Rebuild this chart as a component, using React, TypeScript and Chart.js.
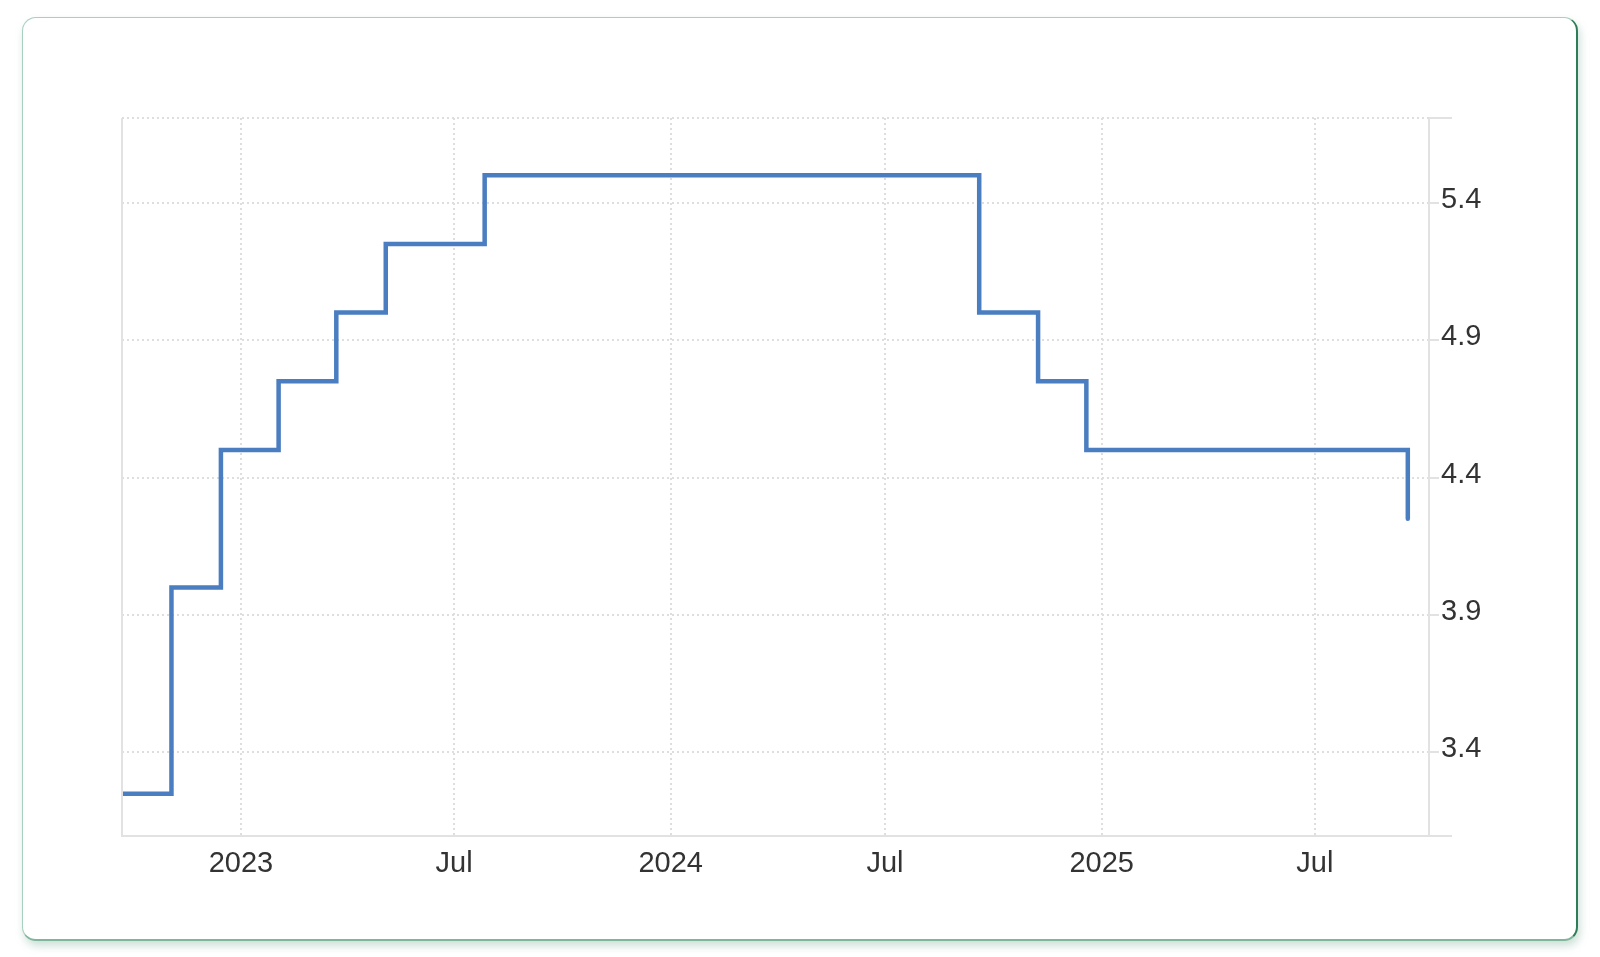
import React, { useEffect, useRef } from "react";
import { Chart, registerables } from "chart.js";

Chart.register(...registerables);

// Effective dates of rate changes and resulting rate (%)
const changeDates = [
  "2022-09-22",
  "2022-11-03",
  "2022-12-15",
  "2023-02-02",
  "2023-03-23",
  "2023-05-04",
  "2023-07-27",
  "2024-09-19",
  "2024-11-08",
  "2024-12-19",
  "2025-09-18",
];
const rateValues = [3.25, 4.0, 4.5, 4.75, 5.0, 5.25, 5.5, 5.0, 4.75, 4.5, 4.25];

const xTickDates = ["2023-01-01", "2023-07-01", "2024-01-01", "2024-07-01", "2025-01-01", "2025-07-01"];
const xTickLabels = ["2023", "Jul", "2024", "Jul", "2025", "Jul"];
const yTickValues = [3.4, 3.9, 4.4, 4.9, 5.4];
const yTickLabels = ["3.4", "3.9", "4.4", "4.9", "5.4"];

const xMinDate = "2022-09-22";
const xMaxDate = "2025-10-06";
const yMin = 3.096;
const yMax = 5.708;

const toMs = (s: string) => {
  const [y, m, d] = s.split("-").map(Number);
  return Date.UTC(y, m - 1, d);
};

const frame = {
  id: "frame",
  afterDraw(chart: any) {
    const { ctx, chartArea } = chart;
    const { left, right, top, bottom } = chartArea;
    ctx.save();
    ctx.strokeStyle = "#e2e2e2";
    ctx.lineWidth = 2;
    ctx.beginPath();
    ctx.moveTo(left, top);
    ctx.lineTo(left, bottom);
    ctx.stroke();
    ctx.beginPath();
    ctx.moveTo(right, top);
    ctx.lineTo(right + 23, top);
    ctx.moveTo(right, bottom);
    ctx.lineTo(right + 23, bottom);
    ctx.stroke();
    ctx.strokeStyle = "#dedede";
    ctx.setLineDash([2, 3]);
    ctx.beginPath();
    ctx.moveTo(left, top);
    ctx.lineTo(right, top);
    ctx.stroke();
    ctx.restore();
  },
};

export default function App() {
  const ref = useRef<HTMLCanvasElement>(null);

  useEffect(() => {
    if (!ref.current) return;
    const data = changeDates.map((d, i) => ({ x: toMs(d), y: rateValues[i] }));
    const xTicks = xTickDates.map(toMs);
    const font = { family: "'Liberation Sans', Arial, sans-serif", size: 29 };
    const chart = new Chart(ref.current, {
      type: "line",
      data: {
        datasets: [
          {
            data,
            stepped: true,
            borderColor: "#4a7ec0",
            borderWidth: 4.5,
            borderCapStyle: "round",
            borderJoinStyle: "miter",
            pointRadius: 0,
            fill: false,
          },
        ],
      },
      options: {
        animation: false,
        responsive: false,
        maintainAspectRatio: false,
        layout: { padding: { left: 82, top: 78, right: 31, bottom: 14 } },
        plugins: { legend: { display: false }, tooltip: { enabled: false } },
        scales: {
          x: {
            type: "linear",
            min: toMs(xMinDate),
            max: toMs(xMaxDate),
            afterBuildTicks: (scale: any) => {
              scale.ticks = xTicks.map((v) => ({ value: v }));
            },
            afterFit: (scale: any) => {
              scale.height = 50;
            },
            ticks: {
              autoSkip: false,
              maxRotation: 0,
              padding: 11,
              color: "#333333",
              font,
              callback: (v: any) => {
                const i = xTicks.indexOf(Number(v));
                return i >= 0 ? xTickLabels[i] : "";
              },
            },
            grid: { color: "#dedede", lineWidth: 2, drawTicks: false },
            border: { display: true, color: "#e2e2e2", width: 2, dash: [2, 3] },
          },
          y: {
            type: "linear",
            position: "right",
            min: yMin,
            max: yMax,
            afterBuildTicks: (scale: any) => {
              scale.ticks = yTickValues.map((v) => ({ value: v }));
            },
            afterFit: (scale: any) => {
              scale.width = 80;
            },
            ticks: {
              padding: 2,
              labelOffset: -3,
              color: "#333333",
              font,
              callback: (v: any) => {
                const i = yTickValues.findIndex((t) => Math.abs(t - Number(v)) < 1e-6);
                return i >= 0 ? yTickLabels[i] : "";
              },
            },
            grid: { color: "#dedede", lineWidth: 2, tickLength: 10, tickColor: "#e2e2e2" },
            border: { display: true, color: "#e2e2e2", width: 2, dash: [2, 3] },
          },
        },
      },
      plugins: [frame],
    } as any);
    return () => chart.destroy();
  }, []);

  return (
    <div>
      <div
        style={{
          position: "absolute",
          left: 22,
          top: 17,
          width: 1556,
          height: 924,
          boxSizing: "border-box",
          borderRadius: 14,
          borderTop: "1.5px solid #a9cfbf",
          borderLeft: "1.5px solid #a9cfbf",
          borderRight: "2px solid #2f7d57",
          borderBottom: "2px solid #7fb59b",
          boxShadow: "2px 5px 9px rgba(110,165,140,0.35)",
          background: "#ffffff",
        }}
      />
      <div style={{ position: "absolute", left: 40, top: 40, width: 1500, height: 860 }}>
        <canvas ref={ref} width={1500} height={860} style={{ width: 1500, height: 860, display: "block" }} />
      </div>
    </div>
  );
}
